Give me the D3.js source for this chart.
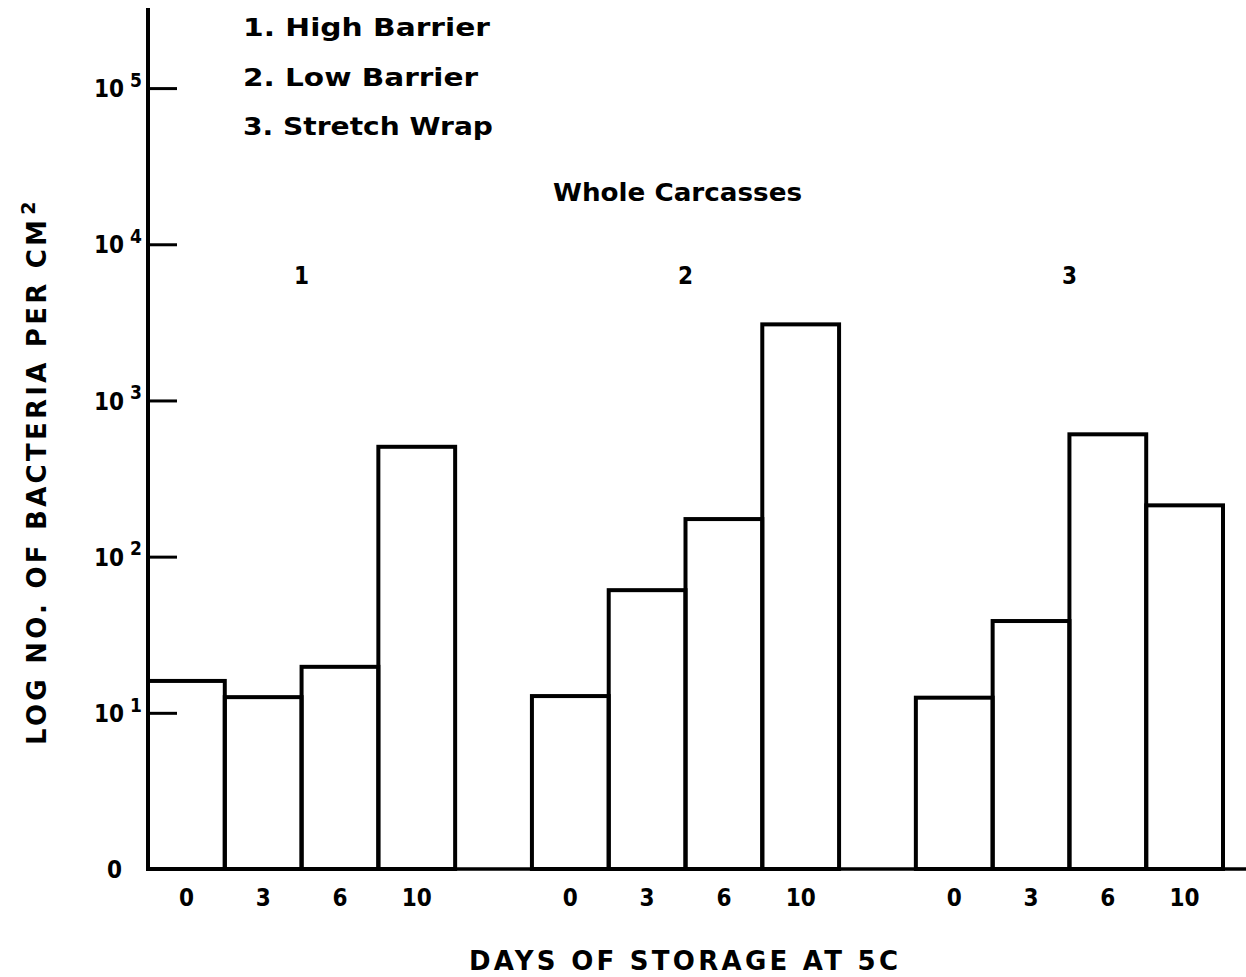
<!DOCTYPE html>
<html><head><meta charset="utf-8">
<script src="https://cdn.jsdelivr.net/npm/d3@7"></script>
<style>
html,body{margin:0;padding:0;background:#fff;}
text{font-family:"DejaVu Sans","Liberation Sans",sans-serif;font-weight:bold;fill:#000;}
.num{font-family:"DejaVu Sans Condensed","DejaVu Sans",sans-serif;}
</style></head>
<body>
<svg id="chart" width="1246" height="977"></svg>
<script>
// ---- data ----
const groups = ["1", "2", "3"];
const legendLabels = ["1. High Barrier", "2. Low Barrier", "3. Stretch Wrap"];
const days = ["0", "3", "6", "10"];
const highBarrier = [16, 12.6, 19.7, 505];
const lowBarrier = [12.8, 61, 174, 3070];
const stretchWrap = [12.5, 38.7, 607, 213];
const yTickValues = [1, 10, 100, 1000, 10000, 100000];
const yTickExponents = ["", "1", "2", "3", "4", "5"];
const title = "Whole Carcasses";
const xTitle = "DAYS OF STORAGE AT 5C";
const yTitle = "LOG NO. OF BACTERIA PER CM";

const series = [highBarrier, lowBarrier, stretchWrap];
const rows = [];
groups.forEach((g, gi) => days.forEach((d, di) => rows.push({group: g, day: d, key: g + "-" + d, value: series[gi][di]})));
const slots = [];
groups.forEach((g, gi) => { days.forEach(d => slots.push(g + "-" + d)); if (gi < groups.length - 1) slots.push("gap" + gi); });

const svg = d3.select("#chart");
const x = d3.scaleBand().domain(slots).range([148, 1223]).padding(0);
const y = d3.scaleLog().domain([1, Math.pow(10, 5.5)]).range([869, 10]);

// bars
svg.append("g").selectAll("rect").data(rows).join("rect")
  .attr("x", d => x(d.key)).attr("width", x.bandwidth())
  .attr("y", d => y(d.value)).attr("height", d => y(1) - y(d.value))
  .attr("fill", "none").attr("stroke", "#000").attr("stroke-width", 4);

// y axis
const yAxis = d3.axisLeft(y).tickValues(yTickValues).tickSize(-29).tickPadding(20).tickFormat(() => "");
const ya = svg.append("g").attr("transform", "translate(148,0)").call(yAxis);
ya.select(".domain").remove();
ya.selectAll(".tick line").attr("stroke", "#000").attr("stroke-width", 3);
ya.selectAll(".tick text").each(function(d, i) {
  const t = d3.select(this).attr("class", "num").attr("font-size", 24).attr("dy", "0.36em").attr("text-anchor", "start");
  if (i === 0) { t.attr("x", -41).text("0"); }
  else {
    t.attr("x", -54);
    t.append("tspan").text("10");
    t.append("tspan").attr("font-size", 19).attr("dx", 6).attr("dy", "-0.55em").text(yTickExponents[i]);
  }
});
svg.append("line").attr("x1", 148).attr("x2", 148).attr("y1", 8).attr("y2", 870).attr("stroke", "#000").attr("stroke-width", 4);
svg.append("line").attr("x1", 146).attr("x2", 1246).attr("y1", y(1)).attr("y2", y(1)).attr("stroke", "#000").attr("stroke-width", 3.5);

// x tick labels
svg.append("g").selectAll("text").data(rows).join("text").attr("class", "num")
  .attr("x", d => x(d.key) + x.bandwidth() / 2).attr("y", 906)
  .attr("text-anchor", "middle").attr("font-size", 24).text(d => d.day);

// group labels
svg.append("g").selectAll("text").data(groups).join("text").attr("class", "num")
  .attr("x", g => (x(g + "-" + days[0]) + x(g + "-" + days[days.length - 1]) + x.bandwidth()) / 2)
  .attr("y", 284).attr("text-anchor", "middle").attr("font-size", 24).text(g => g);

// legend
svg.append("g").selectAll("text").data(legendLabels).join("text")
  .attr("x", 243).attr("y", (d, i) => 36 + i * 49.5).attr("font-size", 25)
  .attr("textLength", (d, i) => [247, 235, 250][i]).attr("lengthAdjust", "spacingAndGlyphs").text(d => d);

// title
svg.append("text").attr("x", 553).attr("y", 201).attr("font-size", 24)
  .attr("font-weight", "600").attr("textLength", 249).attr("lengthAdjust", "spacingAndGlyphs").text(title);

// x title
svg.append("text").attr("x", 469).attr("y", 970).attr("font-size", 26)
  .attr("textLength", 429).attr("lengthAdjust", "spacing").text(xTitle);

// y title
const yt = svg.append("text").attr("transform", "translate(46,745) rotate(-90)").attr("font-size", 26);
yt.append("tspan").attr("textLength", 525).attr("lengthAdjust", "spacing").text(yTitle);
yt.append("tspan").attr("font-size", 19).attr("dy", "-0.6em").attr("dx", 2).text("2");
</script>
</body></html>
